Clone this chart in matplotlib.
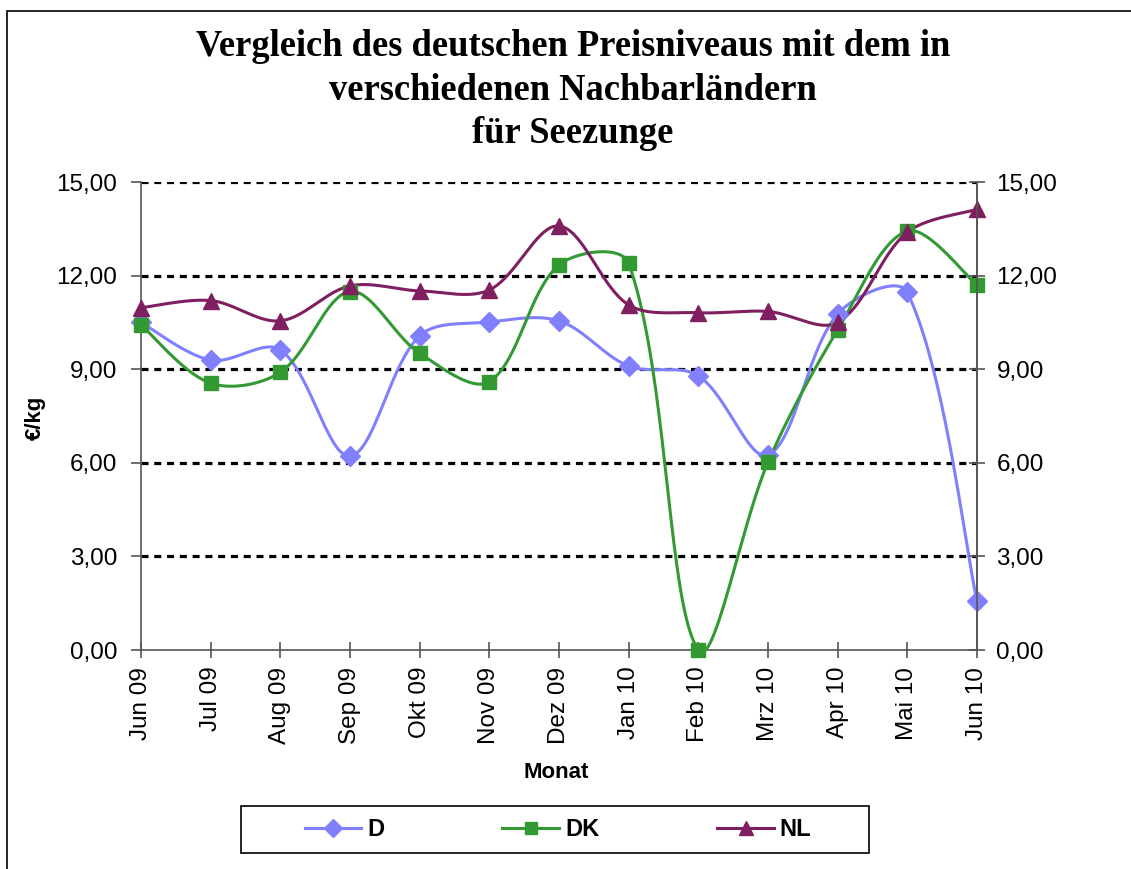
import numpy as np
import matplotlib
matplotlib.use('Agg')
import matplotlib.pyplot as plt
from matplotlib.patches import Rectangle
from matplotlib.ticker import FixedLocator, FuncFormatter

months = ['Jun 09', 'Jul 09', 'Aug 09', 'Sep 09', 'Okt 09', 'Nov 09', 'Dez 09',
          'Jan 10', 'Feb 10', 'Mrz 10', 'Apr 10', 'Mai 10', 'Jun 10']
d_vals = [10.50, 9.29, 9.62, 6.22, 10.07, 10.51, 10.55, 9.10, 8.79, 6.25, 10.77, 11.46, 1.57]
dk_vals = [10.42, 8.55, 8.90, 11.49, 9.51, 8.60, 12.34, 12.39, 0.00, 6.02, 10.26, 13.43, 11.70]
nl_vals = [10.97, 11.20, 10.55, 11.67, 11.51, 11.54, 13.59, 11.06, 10.81, 10.85, 10.50, 13.39, 14.12]
y_ticks = [0, 3, 6, 9, 12, 15]

plt.rcParams['font.family'] = ['Liberation Sans', 'DejaVu Sans']

W, H = 1131, 869
AX_L, AX_R, AX_T, AX_B = 141, 977, 182, 650
# pixels per data unit, used to smooth the lines in screen space like excel
SX = (AX_R - AX_L) / 12.0
SY = (AX_B - AX_T) / 15.0


def smooth(y, n=40):
    # excel style smoothed line: bezier, control points weighted by segment length
    p = np.column_stack([np.arange(len(y)) * SX, np.asarray(y, dtype=float) * SY])
    m = len(p)
    xs, ys = [], []
    t = np.linspace(0, 1, n)[:, None]
    for i in range(m - 1):
        a = p[max(i - 1, 0)]
        b = p[i]
        c = p[i + 1]
        d = p[min(i + 2, m - 1)]
        dab = np.hypot(*(b - a))
        dbc = np.hypot(*(c - b))
        dcd = np.hypot(*(d - c))
        f1 = dbc / (dab + dbc) / 1.5 if dab > 0 else 1 / 3.0
        f2 = dbc / (dbc + dcd) / 1.5 if dcd > 0 else 1 / 3.0
        c1 = b + (c - a) * f1 * 0.5
        c2 = c - (d - b) * f2 * 0.5
        bz = (1 - t) ** 3 * b + 3 * (1 - t) ** 2 * t * c1 + 3 * (1 - t) * t ** 2 * c2 + t ** 3 * c
        xs.extend(bz[:, 0] / SX)
        ys.extend(bz[:, 1] / SY)
    return np.array(xs), np.array(ys)


fig = plt.figure(figsize=(W / 100, H / 100), dpi=100)
fig.patches.append(Rectangle((7 / W, -0.1), 1.2, 1 - 11 / H + 0.1, transform=fig.transFigure,
                             fill=False, edgecolor='black', linewidth=1.2))

ax = fig.add_axes([AX_L / W, 1 - AX_B / H, (AX_R - AX_L) / W, (AX_B - AX_T) / H])
x = np.arange(len(months))

series = [('D', d_vals, '#8080FF', 'D', 10),
          ('DK', dk_vals, '#339933', 's', 10),
          ('NL', nl_vals, '#801F60', '^', 11)]

for gy in y_ticks[1:]:
    ax.axhline(gy, color='black', linewidth=2.3, linestyle=(0, (2.2, 1.8)), zorder=1)

handles = []
for name, vals, col, mk, ms in series:
    sx, sy = smooth(vals)
    ax.plot(sx, sy, color=col, linewidth=2.2, zorder=3, clip_on=False)
    ax.plot(x, vals, linestyle='none', marker=mk, markersize=ms, color=col,
            markeredgecolor=col, zorder=4, clip_on=False)
    h, = ax.plot([], [], color=col, linewidth=2.2, marker=mk, markersize=ms - 1,
                 markeredgecolor=col)
    handles.append(h)

ax.set_xlim(0, 12)
ax.set_ylim(0, 15)
ax.spines['top'].set_visible(False)
for s in ['left', 'right', 'bottom']:
    ax.spines[s].set_color('#555555')
    ax.spines[s].set_linewidth(1.2)

fmt = FuncFormatter(lambda v, p: ('%.2f' % v).replace('.', ','))
ax.yaxis.set_major_locator(FixedLocator(y_ticks))
ax.yaxis.set_major_formatter(fmt)
ax.tick_params(axis='y', direction='out', length=7, width=1.2, color='#555555',
               labelsize=17.5, pad=10)
ax.set_xticks(x)
ax.set_xticklabels(months, rotation=90)
ax.tick_params(axis='x', direction='inout', length=12, width=1.2, color='#555555',
               labelsize=17.5, pad=6)

ax2 = ax.twinx()
ax2.set_ylim(0, 15)
ax2.yaxis.set_major_locator(FixedLocator(y_ticks))
ax2.yaxis.set_major_formatter(fmt)
ax2.tick_params(axis='y', direction='inout', length=12, width=1.2, color='#555555',
                labelsize=17.5, pad=8)
for s in ['top', 'left', 'bottom']:
    ax2.spines[s].set_visible(False)
ax2.spines['right'].set_color('#555555')
ax2.spines['right'].set_linewidth(1.2)

fig.text(573 / W, 1 - 90 / H,
         'Vergleich des deutschen Preisniveaus mit dem in\nverschiedenen Nachbarländern\nfür Seezunge',
         ha='center', va='center', fontsize=26.3, fontweight='bold',
         family=['Liberation Serif', 'DejaVu Serif'], linespacing=1.31)
fig.text(35 / W, 1 - 418 / H, '€/kg', rotation=90, ha='center', va='center',
         fontsize=16, fontweight='bold')
fig.text(556 / W, 1 - 773 / H, 'Monat', ha='center', va='center',
         fontsize=16, fontweight='bold')

# legend box drawn separately so its size matches the reference
fig.patches.append(Rectangle((241 / W, 1 - 853 / H), 628 / W, 47 / H, transform=fig.transFigure,
                             fill=False, edgecolor='black', linewidth=1.2))
leg = fig.legend(handles, [s[0] for s in series], loc='center', ncol=3,
                 bbox_to_anchor=(558 / W, 1 - 829.5 / H),
                 prop={'weight': 'bold', 'size': 17}, handlelength=2.4,
                 handletextpad=0.25, columnspacing=5.0, frameon=False,
                 borderaxespad=0, borderpad=0)

fig.savefig('out.png', dpi=100)
